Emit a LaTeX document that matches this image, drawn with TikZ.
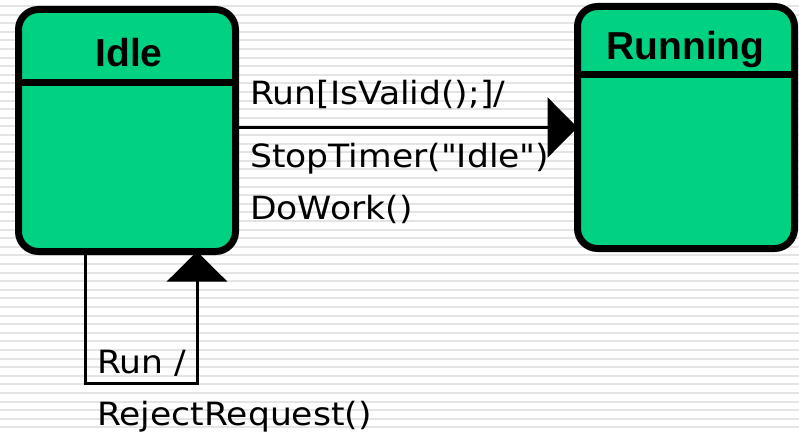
\documentclass[tikz,border=0pt]{standalone}
\usepackage{fontspec}
\newfontfamily\labelfont{DejaVu Sans}
\newfontfamily\titlefont{Liberation Sans}
\usetikzlibrary{arrows.meta,calc}
\definecolor{stategreen}{RGB}{0,210,130}
\definecolor{stripegray}{RGB}{228,228,228}
\tikzset{
  statebox/.style={draw=black, fill=stategreen, line width=7pt, rounded corners=20pt,
    inner sep=0pt, outer sep=0pt, minimum width=217pt},
  divider/.style={draw=black, line width=7pt},
  titletext/.style={inner sep=0pt, anchor=base, font=\titlefont\bfseries\fontsize{39}{44}\selectfont},
  labeltext/.style={inner sep=0pt, anchor=base west, xscale=1.08, font=\labelfont\fontsize{32}{38}\selectfont},
  conn/.style={draw=black, line width=3pt},
  bigtip/.style={-{Triangle[length=30pt,width=60pt]}},
  stripe/.style={draw=stripegray, line width=2pt}
}
\begin{document}
\begin{tikzpicture}[x=1pt,y=-1pt]
\useasboundingbox (0,0) rectangle (799,433);
\fill[white] (0,0) rectangle (799,433);
\foreach \k in {0,...,49} {
  \draw[stripe] (0,{6+8.6*\k}) -- (799,{6+8.6*\k});
}
% states
\node[statebox, minimum height=242pt] (idle) at (127,130.5) {};
\node[statebox, minimum height=242pt] (running) at (686,127.5) {};
\draw[divider] (idle.west |- 0,82.5) -- (idle.east |- 0,82.5);
\draw[divider] (running.west |- 0,75) -- (running.east |- 0,75);
\node[titletext] (idletitle) at (129,67) {Idle};
\node[titletext] (runningtitle) at (685.5,60) {Running};
% transition Idle -> Running
\draw[conn, bigtip] (idle.east |- running.west) -- (running.west);
\node[labeltext] (lab1) at (250,105) {Run[IsValid();]/};
\node[labeltext] (lab2) at (250,167) {StopTimer("Idle")};
\node[labeltext] (lab3) at (250,219) {DoWork()};
% self loop
\coordinate (loopL) at (85,383);
\coordinate (loopR) at (197,383);
\draw[conn, bigtip] (idle.south -| loopL) -- (loopL) -- (loopR) -- (idle.south -| loopR);
\node[labeltext] (lab4) at (97,373) {Run /};
\node[labeltext] (lab5) at (97,425) {RejectRequest()};
\end{tikzpicture}
\end{document}
